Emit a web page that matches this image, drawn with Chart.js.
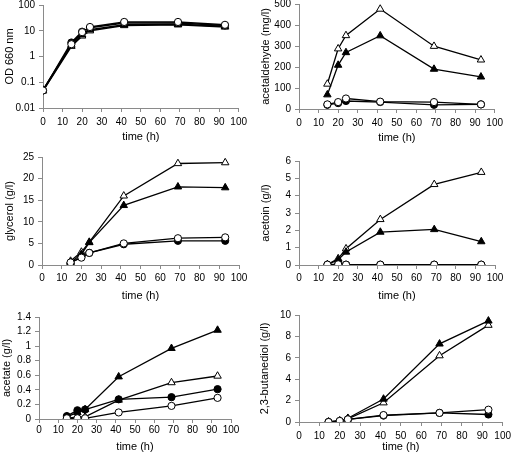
<!DOCTYPE html>
<html>
<head>
<meta charset="utf-8">
<script src="https://cdn.jsdelivr.net/npm/chart.js@4.4.1/dist/chart.umd.min.js"></script>
<style>
body { margin: 0; background: #fff; width: 512px; height: 456px; overflow: hidden; position: relative; }
canvas { position: absolute; }
</style>
</head>
<body>
<canvas id="odChart"></canvas>
<canvas id="acetaldehydeChart"></canvas>
<canvas id="glycerolChart"></canvas>
<canvas id="acetoinChart"></canvas>
<canvas id="acetateChart"></canvas>
<canvas id="butanediolChart"></canvas>
<script>
// sampling times (h)
var timeOD = [0, 14.5, 20, 24, 41.5, 69, 93];
var time = [14.5, 20, 24, 41.5, 69, 93];
var timeTicks = [0, 10, 20, 30, 40, 50, 60, 70, 80, 90, 100];

// OD 660 nm (log scale)
var odTicks = [0.01, 0.1, 1, 10, 100];
var odOpenCircle = [0.048, 3.0, 8.8, 14, 22, 22, 17];
var odFilledCircle = [0.048, 3.5, 9.2, 13, 20, 20, 16];
var odOpenTriangle = [0.046, 2.5, 6.3, 10, 16, 17, 14];
var odFilledTriangle = [0.05, 2.8, 7, 11, 17, 18, 15];

// acetaldehyde (mg/l)
var acdTicks = [0, 100, 200, 300, 400, 500];
var acdOpenCircle = [22, 33, 50, 35, 33, 22];
var acdFilledCircle = [20, 28, 38, 33, 20, 22];
var acdOpenTriangle = [119, 287, 350, 476, 299, 234];
var acdFilledTriangle = [68, 209, 269, 349, 190, 153];

// glycerol (g/l)
var glyTicks = [0, 5, 10, 15, 20, 25];
var glyOpenCircle = [0.6, 1.7, 2.8, 5.0, 6.2, 6.4];
var glyFilledCircle = [0.4, 1.9, 2.8, 4.8, 5.6, 5.6];
var glyOpenTriangle = [0.9, 3.0, 5.3, 16, 23.5, 23.7];
var glyFilledTriangle = [0.6, 2.5, 5.2, 13.8, 18.1, 17.9];

// acetoin (g/l)
var actTicks = [0, 1, 2, 3, 4, 5, 6];
var actOpenCircle = [0.02, 0.04, 0.02, 0.02, 0.02, 0.02];
var actFilledCircle = [0.02, 0.04, 0.02, 0.02, 0.02, 0.02];
var actOpenTriangle = [0.02, 0.37, 0.94, 2.63, 4.65, 5.35];
var actFilledTriangle = [0.02, 0.3, 0.75, 1.9, 2.05, 1.35];

// acetate (g/l)
var aceTicks = [0, 0.2, 0.4, 0.6, 0.8, 1, 1.2, 1.4];
var aceOpenCircle = [0.01, 0.01, 0.01, 0.09, 0.18, 0.29];
var aceFilledCircle = [0.04, 0.12, 0.13, 0.27, 0.30, 0.41];
var aceOpenTriangle = [0.01, 0.03, 0.03, 0.26, 0.50, 0.59];
var aceFilledTriangle = [0.03, 0.09, 0.13, 0.58, 0.97, 1.22];

// 2,3-butanediol (g/l)
var butTicks = [0, 2, 4, 6, 8, 10];
var butOpenCircle = [0, 0.1, 0.25, 0.65, 0.85, 1.15];
var butFilledCircle = [0, 0.08, 0.25, 0.6, 0.85, 0.7];
var butOpenTriangle = [0, 0.1, 0.3, 1.8, 6.2, 9.05];
var butFilledTriangle = [0, 0.1, 0.35, 2.15, 7.3, 9.45];

var FONT = "'Liberation Sans', Arial, sans-serif";
var AXIS_GREY = '#8a8a8a';

function toPoints(xs, ys) {
    return ys.map(function (y, i) { return { x: xs[i], y: y }; });
}

function series(xs, ys, marker, filled, lineWidth) {
    return {
        data: toPoints(xs, ys),
        borderColor: '#000',
        borderWidth: lineWidth,
        pointStyle: marker,
        pointRadius: marker === 'triangle' ? 4.3 : 3.6,
        pointBorderWidth: 1,
        pointBorderColor: '#000',
        pointBackgroundColor: filled ? '#000' : '#fff',
        tension: 0
    };
}

// box = plot area in page pixels: x0, x1, y0, y1; panelLeft = left edge of the panel
function makeChart(id, box, xs, sets, yOpts) {
    var canvas = document.getElementById(id);
    var top = box.y0 - 12;
    var width = box.x1 + 12 - box.panelLeft;
    var height = (box.y1 - top) + box.xH;
    canvas.width = width;
    canvas.height = height;
    canvas.style.left = box.panelLeft + 'px';
    canvas.style.top = top + 'px';
    canvas.style.width = width + 'px';
    canvas.style.height = height + 'px';

    var tickFont = { family: FONT, size: 10 };
    var titleFont = { family: FONT, size: 11 };
    var lw = yOpts.lineWidth || 1.3;

    return new Chart(canvas, {
        type: 'line',
        data: {
            datasets: [
                series(xs, sets.openCircle, 'circle', false, lw),
                series(xs, sets.filledCircle, 'circle', true, lw),
                series(xs, sets.filledTriangle, 'triangle', true, lw),
                series(xs, sets.openTriangle, 'triangle', false, lw)
            ]
        },
        options: {
            responsive: false,
            animation: false,
            devicePixelRatio: 1,
            layout: { padding: { top: 12, right: 12, left: 0, bottom: 0 } },
            plugins: { legend: { display: false }, tooltip: { enabled: false } },
            scales: {
                x: {
                    type: 'linear',
                    min: 0,
                    max: 100,
                    afterBuildTicks: function (axis) {
                        axis.ticks = timeTicks.map(function (v) { return { value: v }; });
                    },
                    afterFit: function (axis) { axis.height = box.xH; },
                    ticks: {
                        autoSkip: false, maxRotation: 0, minRotation: 0,
                        color: '#000', font: tickFont, padding: box.tickPad,
                        callback: function (v) { return String(v); }
                    },
                    grid: { drawOnChartArea: false, drawTicks: true, tickLength: 4, color: AXIS_GREY },
                    border: { color: AXIS_GREY, width: 1 },
                    title: { display: true, text: 'time (h)', color: '#000', font: titleFont, padding: 0 }
                },
                y: {
                    type: yOpts.log ? 'logarithmic' : 'linear',
                    min: yOpts.ticks[0],
                    max: yOpts.ticks[yOpts.ticks.length - 1],
                    afterBuildTicks: function (axis) {
                        axis.ticks = yOpts.ticks.map(function (v) { return { value: v }; });
                    },
                    afterFit: function (axis) { axis.width = box.x0 - box.panelLeft; },
                    ticks: {
                        autoSkip: false, color: '#000', font: tickFont, padding: 4,
                        callback: function (v) { return String(+v.toFixed(3)); }
                    },
                    grid: { drawOnChartArea: false, drawTicks: true, tickLength: 4, color: AXIS_GREY },
                    border: { color: AXIS_GREY, width: 1 },
                    title: {
                        display: true, text: yOpts.title, color: '#000', font: titleFont,
                        padding: { top: box.titleX - 6.6, bottom: 0 }
                    }
                }
            }
        }
    });
}

makeChart('odChart',
    { panelLeft: 0, x0: 43, x1: 239, y0: 5, y1: 108, xH: 36, tickPad: 4, titleX: 10 },
    timeOD,
    { openCircle: odOpenCircle, filledCircle: odFilledCircle, openTriangle: odOpenTriangle, filledTriangle: odFilledTriangle },
    { title: 'OD 660 nm', ticks: odTicks, log: true, lineWidth: 1.6 });

makeChart('acetaldehydeChart',
    { panelLeft: 256, x0: 299, x1: 495, y0: 4, y1: 109, xH: 36, tickPad: 4, titleX: 10 },
    time,
    { openCircle: acdOpenCircle, filledCircle: acdFilledCircle, openTriangle: acdOpenTriangle, filledTriangle: acdFilledTriangle },
    { title: 'acetaldehyde (mg/l)', ticks: acdTicks });

makeChart('glycerolChart',
    { panelLeft: 0, x0: 42, x1: 239, y0: 157, y1: 265, xH: 38, tickPad: 3, titleX: 10 },
    time,
    { openCircle: glyOpenCircle, filledCircle: glyFilledCircle, openTriangle: glyOpenTriangle, filledTriangle: glyFilledTriangle },
    { title: 'glycerol (g/l)', ticks: glyTicks });

makeChart('acetoinChart',
    { panelLeft: 256, x0: 299, x1: 495, y0: 161, y1: 265, xH: 38, tickPad: 3, titleX: 10 },
    time,
    { openCircle: actOpenCircle, filledCircle: actFilledCircle, openTriangle: actOpenTriangle, filledTriangle: actFilledTriangle },
    { title: 'acetoin (g/l)', ticks: actTicks });

makeChart('acetateChart',
    { panelLeft: 0, x0: 39, x1: 231, y0: 317, y1: 419, xH: 35, tickPad: 1, titleX: 7 },
    time,
    { openCircle: aceOpenCircle, filledCircle: aceFilledCircle, openTriangle: aceOpenTriangle, filledTriangle: aceFilledTriangle },
    { title: 'acetate (g/l)', ticks: aceTicks });

makeChart('butanediolChart',
    { panelLeft: 256, x0: 299, x1: 503, y0: 315, y1: 422, xH: 32, tickPad: 4, titleX: 9 },
    time,
    { openCircle: butOpenCircle, filledCircle: butFilledCircle, openTriangle: butOpenTriangle, filledTriangle: butFilledTriangle },
    { title: '2,3-butanediol (g/l)', ticks: butTicks });
</script>
</body>
</html>
